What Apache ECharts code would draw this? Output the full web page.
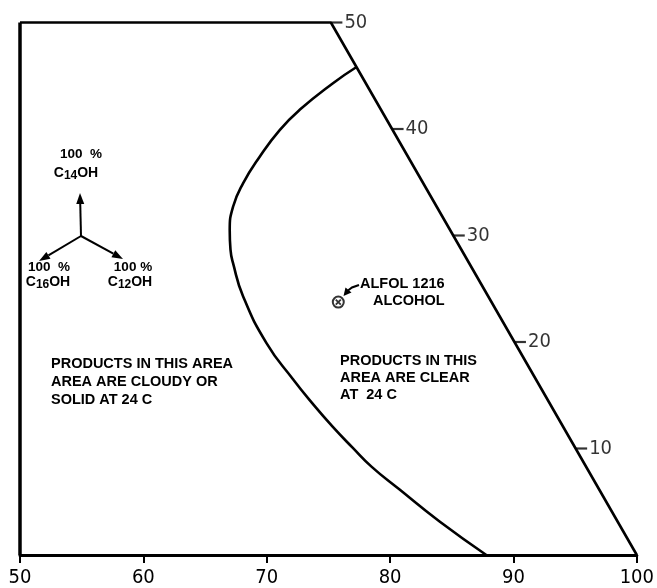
<!DOCTYPE html>
<html>
<head>
<meta charset="utf-8">
<script src="https://cdn.jsdelivr.net/npm/echarts@6/dist/echarts.min.js"></script>
<style>
  html, body { margin: 0; padding: 0; background: #fff; }
  #chart { width: 657px; height: 588px; }
</style>
</head>
<body>
<div id="chart"></div>
<script>
// Cloud-point boundary of C12/C14/C16 alcohol blends (section of the ternary diagram)
const xTickValues = [50, 60, 70, 80, 90, 100];
const diagTickValues = [10, 20, 30, 40, 50];

// Outline of the diagram section
const leftEdgeX = [50, 50];
const leftEdgeY = [0, 50];
const frameX = [50, 75.2, 100];
const frameY = [50, 50, 0];

// Boundary between cloudy/solid and clear products
const curveX = [77.25, 75.37, 72.67, 71.05, 69.43, 68.08, 67.27, 67.0, 67.06, 67.27, 68.08, 69.98, 72.13, 73.72, 75.34, 76.96, 78.49, 80.77, 84.01, 87.8];
const curveY = [45.8, 44.3, 41.8, 39.9, 37.4, 34.9, 32.7, 30.5, 28.7, 27.4, 24.3, 19.9, 16.5, 14.21, 12.05, 10.08, 8.3, 6.14, 3.14, 0];

// ALFOL 1216 alcohol composition
const alfolX = [75.8];
const alfolY = [23.75];

const zip = (xs, ys) => xs.map((x, i) => [x, ys[i]]);
// x position on the sloping right edge for a given value
const diagX = (v) => frameX[2] + (frameX[1] - frameX[2]) * (v - frameY[2]) / (frameY[1] - frameY[2]);

const numFont = '"Liberation Sans Narrow", "DejaVu Sans Condensed", "Liberation Sans", sans-serif';
const txtFont = '"Liberation Sans", Arial, sans-serif';

const chart = echarts.init(document.getElementById('chart'), null, { renderer: 'canvas' });

function arrow(x1, y1, x2, y2, len, half) {
  const a = Math.atan2(y2 - y1, x2 - x1);
  const bx = x2 - len * Math.cos(a), by = y2 - len * Math.sin(a);
  const px = -Math.sin(a) * half, py = Math.cos(a) * half;
  return [
    { type: 'line', shape: { x1: x1, y1: y1, x2: bx, y2: by }, style: { stroke: '#000', lineWidth: 2 } },
    { type: 'polygon', shape: { points: [[x2, y2], [bx + px, by + py], [bx - px, by - py]] }, style: { fill: '#000' } }
  ];
}

function label(x, y, text, size, align) {
  return {
    type: 'text', x: x, y: y,
    style: { text: text, font: 'bold ' + size + 'px ' + txtFont, fill: '#000', align: align || 'left', verticalAlign: 'middle' }
  };
}

function chem(x, y, num) {
  return {
    type: 'text', x: x, y: y,
    style: {
      text: '{c|C}{s|' + num + '}{c|OH}',
      align: 'center', verticalAlign: 'middle',
      rich: {
        c: { font: 'bold 14px ' + txtFont, fill: '#000' },
        s: { font: 'bold 12px ' + txtFont, fill: '#000', padding: [6, 0, 0, 0] }
      }
    }
  };
}

const graphics = [].concat(
  // composition key
  arrow(81, 236, 80, 193, 11, 4),
  arrow(81, 236, 39, 261, 11, 4),
  arrow(81, 236, 123, 259, 11, 4),
  [
    label(81, 154, '100  %', 13.5, 'center'),
    chem(76, 173, '14'),
    label(49, 267, '100  %', 13.5, 'center'),
    chem(48, 282, '16'),
    label(133, 267, '100 %', 13.5, 'center'),
    chem(130, 282, '12'),
    // region notes
    label(51, 364, 'PRODUCTS IN THIS AREA', 14.5),
    label(51, 382, 'AREA ARE CLOUDY OR', 14.5),
    label(51, 400, 'SOLID AT 24 C', 14.5),
    label(340, 361, 'PRODUCTS IN THIS', 14.5),
    label(340, 378, 'AREA ARE CLEAR', 14.5),
    label(340, 395, 'AT  24 C', 14.5),
    label(360, 284, 'ALFOL 1216', 14.5),
    label(373, 301, 'ALCOHOL', 14.5),
    { type: 'polyline', shape: { points: [[359, 285], [352, 287.5], [348, 290.5]] }, style: { stroke: '#000', lineWidth: 2, fill: null } },
    { type: 'polygon', shape: { points: [[343.5, 296], [345.5, 287.5], [351.5, 292.5]] }, style: { fill: '#000' } }
  ]
);

const option = {
  animation: false,
  backgroundColor: '#fff',
  grid: { left: 20, right: 19.5, top: 22.5, bottom: 32.5 },
  xAxis: {
    type: 'value', min: 50, max: 100, interval: 10,
    axisLine: { show: true, lineStyle: { color: '#000', width: 3 } },
    axisTick: { show: true, inside: false, length: 8, lineStyle: { color: '#000', width: 2 } },
    axisLabel: { color: '#000', fontFamily: numFont, fontSize: 20, margin: 13,
      formatter: (v) => (xTickValues.indexOf(v) >= 0 ? String(v) : '') },
    splitLine: { show: false }
  },
  yAxis: { type: 'value', min: 0, max: 50, show: false, splitLine: { show: false } },
  series: [
    {
      type: 'line', data: zip(leftEdgeX, leftEdgeY), symbol: 'none', clip: false,
      lineStyle: { color: '#000', width: 3.5 }
    },
    {
      type: 'line', data: zip(frameX, frameY), symbol: 'none', clip: false,
      lineStyle: { color: '#000', width: 2.6 }
    },
    {
      type: 'line', data: zip(curveX, curveY), symbol: 'none', smooth: 0.5, clip: false,
      lineStyle: { color: '#000', width: 2.6 }
    },
    {
      // scale ticks on the sloping edge
      type: 'scatter', clip: false,
      data: diagTickValues.map(v => [diagX(v), v]),
      symbol: 'rect', symbolSize: [11, 2.2], symbolOffset: [6, 0],
      itemStyle: { color: '#000' },
      label: { show: true, position: 'right', distance: 2, color: '#000', fontFamily: numFont, fontSize: 20,
        formatter: (p) => String(p.value[1]) }
    },
    {
      type: 'scatter', data: zip(alfolX, alfolY), symbol: 'emptyCircle', symbolSize: 11,
      itemStyle: { color: '#000', borderColor: '#000', borderWidth: 2.4 }
    },
    {
      type: 'scatter', data: zip(alfolX, alfolY), symbol: 'path://M0,0L10,10M10,0L0,10', symbolSize: 5,
      itemStyle: { color: 'none', borderColor: '#000', borderWidth: 1.8 }
    }
  ],
  graphic: graphics
};

chart.setOption(option);
</script>
</body>
</html>
